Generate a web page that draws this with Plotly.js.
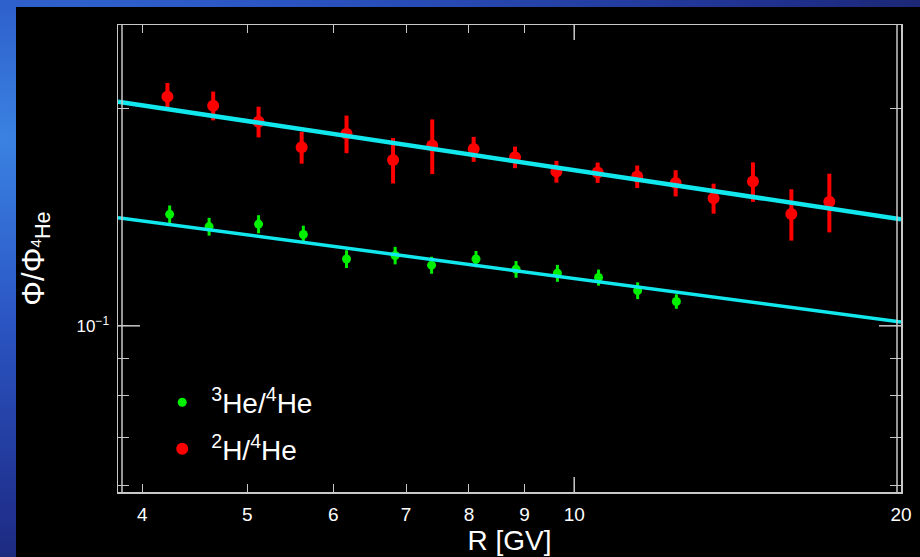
<!DOCTYPE html>
<html>
<head>
<meta charset="utf-8">
<script src="https://cdn.plot.ly/plotly-3.0.1.min.js"></script>
<style>
  html, body { margin: 0; padding: 0; width: 920px; height: 557px; overflow: hidden;
    background: radial-gradient(ellipse at 0% 25%, #3a82e2 0%, #2b56c4 30%, #1f2f8c 65%, #141638 100%); }
  #chart { position: absolute; left: 16px; top: 7px; width: 904px; height: 550px; }
</style>
</head>
<body>
<div id="chart"></div>
<script>
// ---- data ----
const he3X = [4.24, 4.61, 5.12, 5.63, 6.17, 6.84, 7.39, 8.12, 8.84, 9.65, 10.53, 11.44, 12.42];
const he3Y = [0.1428, 0.1373, 0.1384, 0.1339, 0.1238, 0.1252, 0.1214, 0.1238, 0.1198, 0.1183, 0.1167, 0.1119, 0.1081];
const he3Err = [0.0041, 0.0039, 0.0040, 0.0038, 0.0035, 0.0035, 0.0033, 0.0032, 0.0032, 0.0032, 0.0030, 0.0030, 0.0025];

const h2X = [4.22, 4.65, 5.12, 5.61, 6.17, 6.81, 7.40, 8.08, 8.82, 9.63, 10.51, 11.43, 12.40, 13.44, 14.61, 15.85, 17.18];
const h2Y = [0.2080, 0.2021, 0.1920, 0.1769, 0.1847, 0.1699, 0.1779, 0.1759, 0.1714, 0.1637, 0.1632, 0.1611, 0.1578, 0.1503, 0.1586, 0.1430, 0.1487];
const h2Err = [0.0093, 0.0093, 0.0094, 0.0090, 0.0111, 0.0123, 0.0155, 0.0070, 0.0059, 0.0057, 0.0053, 0.0058, 0.0066, 0.0072, 0.0100, 0.0117, 0.0139];

const fitX = [3.8, 20];
const h2FitY = [0.2047, 0.1406];
const he3FitY = [0.1413, 0.1012];

const xTickVals = [4, 5, 6, 7, 8, 9, 10, 20];
const xTickText = ['4', '5', '6', '7', '8', '9', '10', '20'];
const yTickVals = [0.06, 0.07, 0.08, 0.09, 0.1, 0.2];
const yTickText = ['', '', '', '', '10<sup>\u22121</sup>', ''];

// ---- chart ----
const FONT = 'Liberation Sans, Arial, Helvetica, sans-serif';
const AX = '#c8c8c8';
const traces = [
  { x: he3X, y: he3Y, type: 'scatter', mode: 'markers', name: '<sup>3</sup>He/<sup>4</sup>He',
    legendgroup: 'a',
    marker: { color: '#00f000', size: 9 },
    error_y: { type: 'data', array: he3Err, visible: true, color: '#00f000', thickness: 3, width: 0 } },
  { x: h2X, y: h2Y, type: 'scatter', mode: 'markers', name: '<sup>2</sup>H/<sup>4</sup>He',
    legendgroup: 'b',
    marker: { color: '#ff0000', size: 12 },
    error_y: { type: 'data', array: h2Err, visible: true, color: '#ff0000', thickness: 4, width: 0 } },
  { x: fitX, y: h2FitY, type: 'scatter', mode: 'lines', showlegend: false,
    line: { color: '#10e8ee', width: 4.5 } },
  { x: fitX, y: he3FitY, type: 'scatter', mode: 'lines', showlegend: false,
    line: { color: '#10e8ee', width: 3.5 } }
];

const inner = 4 / 783;
const layout = {
  width: 904, height: 550,
  paper_bgcolor: '#000000', plot_bgcolor: '#000000',
  margin: { l: 102, r: 19, t: 18, b: 65 },
  font: { family: FONT, color: '#ffffff' },
  showlegend: true,
  legend: { x: 0.045, y: 0.245, xanchor: 'left', yanchor: 'top', bgcolor: 'rgba(0,0,0,0)',
    font: { size: 28, color: '#ffffff', family: FONT }, tracegroupgap: 7, itemwidth: 48 },
  xaxis: {
    type: 'log', range: [Math.log10(3.8), Math.log10(20)],
    tickmode: 'array', tickvals: xTickVals, ticktext: xTickText,
    ticks: 'inside', ticklen: 8, tickwidth: 1, tickcolor: AX,
    showline: true, linecolor: AX, linewidth: 1.5, mirror: 'ticks',
    showgrid: false, zeroline: false,
    tickfont: { size: 19, color: '#ffffff' }, ticklabelstandoff: 5,
    title: { text: 'R [GV]', font: { size: 28, color: '#ffffff' }, standoff: 2 }
  },
  yaxis: {
    type: 'log', range: [Math.log10(0.0588), Math.log10(0.2615)],
    tickmode: 'array', tickvals: yTickVals, ticktext: yTickText,
    ticks: 'inside', ticklen: 11, tickwidth: 1, tickcolor: AX,
    showline: true, linecolor: AX, linewidth: 1.5, mirror: 'ticks',
    showgrid: false, zeroline: false,
    tickfont: { size: 17, color: '#ffffff' }, ticklabelstandoff: 4,
    title: { text: '\u03A6/\u03A6<sub><sup>4</sup>He</sub>', font: { size: 31, color: '#ffffff' }, standoff: 24 }
  },
  shapes: [
    { type: 'line', xref: 'paper', yref: 'paper', x0: inner, x1: inner, y0: 0, y1: 1, line: { color: AX, width: 1.5 } },
    { type: 'line', xref: 'paper', yref: 'paper', x0: 1 - inner, x1: 1 - inner, y0: 0, y1: 1, line: { color: AX, width: 1.5 } },
    { type: 'line', xref: 'x', yref: 'paper', x0: 10, x1: 10, y0: 0, y1: 15 / 467, line: { color: AX, width: 1.5 } },
    { type: 'line', xref: 'x', yref: 'paper', x0: 10, x1: 10, y0: 1, y1: 1 - 15 / 467, line: { color: AX, width: 1.5 } },
    { type: 'line', xref: 'paper', yref: 'y', x0: 0, x1: 22 / 783, y0: 0.1, y1: 0.1, line: { color: AX, width: 1.5 } },
    { type: 'line', xref: 'paper', yref: 'y', x0: 1, x1: 1 - 22 / 783, y0: 0.1, y1: 0.1, line: { color: AX, width: 1.5 } }
  ]
};

Plotly.newPlot('chart', traces, layout, { displayModeBar: false, staticPlot: true });
</script>
</body>
</html>
